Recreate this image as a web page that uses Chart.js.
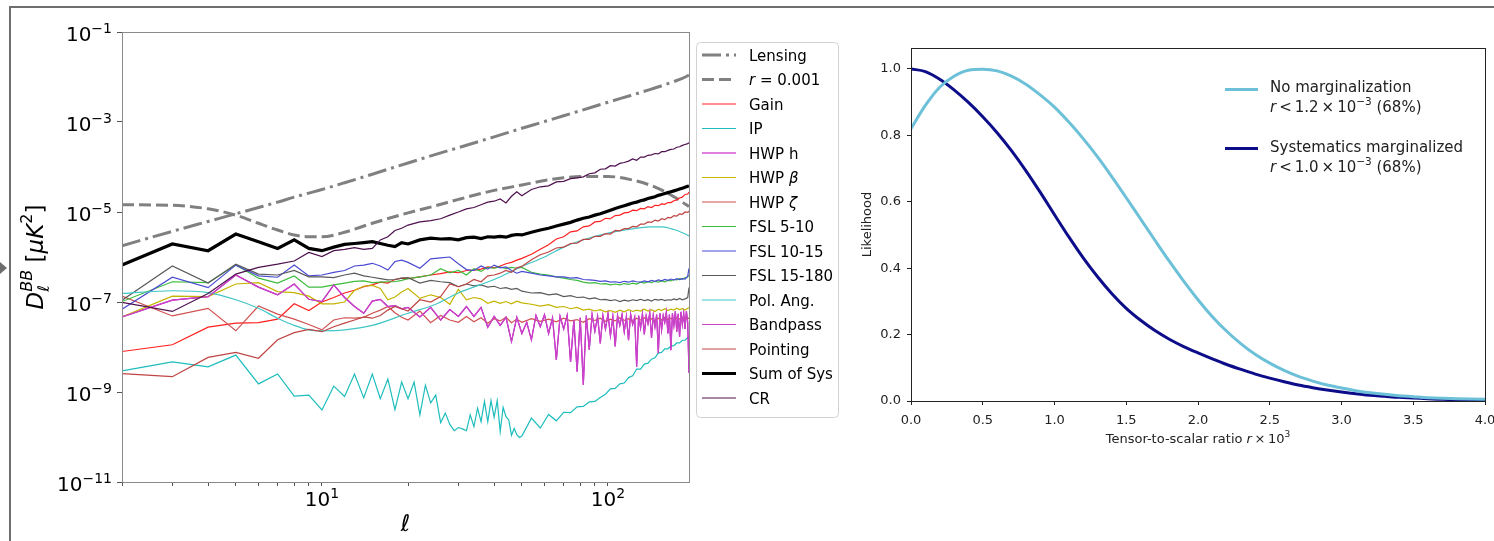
<!DOCTYPE html>
<html lang="en">
<head>
<meta charset="UTF-8">
<title>BB systematics and r likelihood</title>
<script src="https://cdn.jsdelivr.net/npm/chart.js"></script>
<style>
  html, body { margin:0; padding:0; background:#fff; }
  body { width:1494px; height:541px; position:relative; overflow:hidden; font-family:"DejaVu Sans", sans-serif; }
  #frame { position:absolute; left:9px; top:6px; right:-10px; bottom:-10px; border-left:2px solid #6e6e6e; border-top:2px solid #6e6e6e; }
  #arrow { position:absolute; left:0; top:262px; width:0; height:0; border-top:6px solid transparent; border-bottom:6px solid transparent; border-left:7px solid #6e6e6e; }
  #left  { position:absolute; left:0;     top:0; width:860px; height:541px; }
  #right { position:absolute; left:840px; top:0; width:654px; height:541px; }
</style>
</head>
<body>
<div id="frame"></div>
<div id="arrow"></div>
<div id="left"><canvas id="cl"></canvas></div>
<div id="right"><canvas id="cr"></canvas></div>

<script>
/* ==== data : left panel (values are log10 of D_l^BB in uK^2) ==== */
const ell = [2,3,4,5,6,7,8,9,10,11,12,13,14,15,16,17,18,19,20,
  22,24,26,28,30,32,34,36,38,40,42,44,46,48,50,
  54,58,62,66,70,74,78,82,86,90,94,98,102,106,110,114,118,122,126,130,134,138,142,146,150,154,158,162,166,170,174,178,182,186,190,192];

const ellIP = [2,3,4,5,6,7,8,9,10,11,12,13,14,15,16,17,18,19,20,21,22,23,24,25,26,27,28,29,30,
  31,32,33,34,35,36,37,38,39,40,41,42,43,44,45,46,47,48,49,50,
  54,58,62,66,70,74,78,82,86,90,94,98,102,106,110,114,118,122,126,130,134,138,142,146,150,154,158,162,166,170,174,178,182,186,190,192];

const ellFine = [2,3,4,5,6,7,8,9,10,11,12,13,14,15,16,17,18,19,20,
  22,24,26,28,30,32,34,36,38,40,42,44,46,48,50,
  52,54,56,58,60,62,64,66,68,70,72,74,76,78,80,82,84,86,88,90,92,94,96,98,100,
  102,104,106,108,110,112,114,116,118,120,122,124,126,128,130,132,134,136,138,140,
  142,144,146,148,150,152,154,156,158,160,162,164,166,168,170,172,174,176,178,180,
  182,184,186,188,190,192];

const ellSmooth = [2,3,4,5,6,7,8,9,10,12,15,20,25,30,40,50,60,70,80,100,120,140,155,170,182,192];

const lensing = [-5.75,-5.43,-5.21,-5.04,-4.90,-4.78,-4.67,-4.58,-4.50,-4.35,-4.16,-3.91,-3.72,-3.57,-3.33,-3.14,-2.99,-2.86,-2.75,-2.56,-2.41,-2.28,-2.19,-2.10,-2.03,-1.96];
const rTensor = [-4.84,-4.85,-4.93,-5.07,-5.25,-5.40,-5.51,-5.55,-5.55,-5.45,-5.25,-5.02,-4.86,-4.72,-4.52,-4.40,-4.30,-4.24,-4.21,-4.21,-4.28,-4.40,-4.52,-4.66,-4.78,-4.88];
const polAng  = [-6.81,-6.75,-6.79,-6.95,-7.14,-7.36,-7.52,-7.62,-7.64,-7.62,-7.52,-7.25,-7.05,-6.80,-6.50,-6.21,-6.00,-5.78,-5.64,-5.47,-5.38,-5.33,-5.33,-5.39,-5.46,-5.53];

const gain = [-8.10,-7.95,-7.56,-7.47,-7.46,-7.38,-7.04,-7.19,-7.00,-6.90,-6.80,-6.74,-6.66,-6.62,-6.56,-6.58,-6.50,-6.47,-6.48,
  -6.44,-6.40,-6.37,-6.33,-6.35,-6.30,-6.29,-6.27,-6.22,-6.24,-6.20,-6.15,-6.12,-6.07,-6.03,
  -5.94,-5.83,-5.73,-5.60,-5.55,-5.44,-5.42,-5.33,-5.31,-5.22,-5.21,-5.14,-5.15,-5.08,-5.07,-5.02,-5.01,-4.96,-4.97,-4.92,-4.93,-4.88,-4.90,-4.85,-4.86,-4.82,-4.83,-4.79,-4.79,-4.75,-4.73,-4.69,-4.67,-4.61,-4.60,-4.56];

const ip = [-8.53,-8.33,-8.44,-8.18,-8.82,-8.60,-9.09,-9.07,-9.40,-8.87,-9.10,-8.60,-9.13,-8.60,-9.15,-8.71,-9.39,-8.78,-9.15,-8.78,-9.51,-8.85,-9.24,-9.07,-9.68,-9.47,-9.72,-9.86,-9.79,
  -9.82,-9.86,-9.51,-9.77,-9.36,-9.66,-9.21,-9.66,-9.19,-9.56,-9.19,-9.88,-9.34,-9.55,-9.62,-9.96,-9.81,-9.95,-10.01,-9.98,
  -9.58,-9.80,-9.50,-9.64,-9.45,-9.46,-9.33,-9.32,-9.22,-9.21,-9.12,-9.05,-8.93,-8.92,-8.82,-8.80,-8.68,-8.64,-8.49,-8.49,-8.38,-8.36,-8.27,-8.24,-8.13,-8.12,-8.04,-8.04,-7.98,-7.97,-7.91,-7.91,-7.85,-7.85,-7.79,-7.78];

const bandpass = [-7.33,-6.96,-6.88,-6.40,-6.67,-6.84,-6.60,-6.94,-6.99,-6.62,-6.90,-7.10,-7.25,-6.98,-6.94,-7.10,-7.08,-7.15,-7.12,
  -7.33,-7.12,-7.40,-7.17,-7.32,-7.10,-7.32,-7.12,-7.56,-7.32,-7.52,-7.34,-7.88,-7.34,-7.70,
  -7.45,-7.84,-7.30,-7.55,-7.28,-7.70,-7.35,-8.29,-7.32,-7.60,-7.30,-8.33,-7.40,-8.55,-7.35,-8.84,-7.30,-8.06,-7.28,-7.65,-7.32,-7.92,-7.30,-7.60,-7.26,
  -7.75,-7.33,-7.99,-7.30,-7.52,-7.28,-7.66,-7.32,-7.85,-7.27,-7.50,-7.34,-8.44,-7.30,-7.58,-7.26,-7.72,-7.31,-7.48,-7.24,
  -7.80,-7.30,-7.55,-7.28,-8.14,-7.25,-7.62,-7.30,-7.45,-7.22,-7.70,-7.28,-8.07,-7.25,-7.52,-7.20,-7.66,-7.26,-7.77,-7.22,
  -7.50,-7.25,-7.60,-7.20,-7.45,-8.58];

// HWP h lies underneath the Bandpass curve in the figure
const hwpH = bandpass;

const hwpBeta = [-7.33,-6.87,-6.88,-6.60,-6.57,-6.77,-6.79,-6.87,-7.04,-7.04,-7.00,-6.74,-6.65,-6.63,-6.70,-6.95,-6.89,-6.78,-6.70,
  -6.92,-6.84,-6.90,-7.05,-6.72,-6.95,-6.90,-6.93,-7.03,-6.98,-7.03,-6.99,-7.04,-6.98,-7.02,
  -7.05,-7.09,-7.06,-7.12,-7.10,-7.15,-7.12,-7.18,-7.16,-7.20,-7.17,-7.22,-7.19,-7.23,-7.18,-7.22,-7.17,-7.21,-7.18,-7.20,-7.16,-7.20,-7.17,-7.21,-7.16,-7.19,-7.15,-7.19,-7.16,-7.18,-7.14,-7.17,-7.15,-7.18,-7.14,-7.12];

const hwpZeta = [-6.87,-7.31,-7.14,-7.64,-7.09,-7.27,-7.38,-7.50,-7.62,-7.40,-7.35,-7.36,-7.34,-7.25,-7.18,-7.10,-7.24,-7.34,-7.40,
  -7.20,-7.46,-7.30,-7.40,-7.45,-7.32,-7.44,-7.35,-7.47,-7.37,-7.42,-7.34,-7.46,-7.38,-7.45,
  -7.37,-7.43,-7.38,-7.44,-7.36,-7.42,-7.39,-7.45,-7.37,-7.41,-7.36,-7.43,-7.38,-7.42,-7.35,-7.41,-7.37,-7.43,-7.36,-7.40,-7.35,-7.41,-7.37,-7.42,-7.36,-7.40,-7.34,-7.39,-7.36,-7.41,-7.35,-7.38,-7.34,-7.39,-7.35,-7.37];

const fsl510 = [-6.99,-6.55,-6.57,-6.18,-6.47,-6.58,-6.42,-6.67,-6.67,-6.62,-6.58,-6.54,-6.53,-6.57,-6.56,-6.55,-6.55,-6.52,-6.48,
  -6.44,-6.40,-6.26,-6.35,-6.30,-6.40,-6.26,-6.32,-6.23,-6.25,-6.22,-6.26,-6.23,-6.25,-6.23,
  -6.34,-6.38,-6.40,-6.44,-6.47,-6.50,-6.52,-6.56,-6.58,-6.57,-6.60,-6.59,-6.62,-6.60,-6.62,-6.59,-6.61,-6.58,-6.60,-6.56,-6.58,-6.55,-6.57,-6.54,-6.56,-6.53,-6.55,-6.52,-6.53,-6.50,-6.51,-6.48,-6.49,-6.46,-6.44,-6.40];

const fsl1015 = [-7.16,-6.45,-6.68,-6.18,-6.42,-6.45,-6.18,-6.42,-6.40,-6.34,-6.30,-6.20,-6.18,-6.14,-6.20,-6.29,-6.10,-6.07,-6.12,
  -6.25,-6.04,-6.02,-6.00,-6.15,-6.28,-6.30,-6.20,-6.27,-6.18,-6.24,-6.22,-6.30,-6.36,-6.32,
  -6.36,-6.40,-6.42,-6.44,-6.44,-6.47,-6.46,-6.50,-6.51,-6.52,-6.54,-6.53,-6.56,-6.55,-6.57,-6.54,-6.56,-6.53,-6.55,-6.56,-6.53,-6.55,-6.52,-6.54,-6.51,-6.53,-6.50,-6.52,-6.49,-6.51,-6.48,-6.50,-6.48,-6.49,-6.43,-6.25];

const fsl15180 = [-6.96,-6.20,-6.58,-6.16,-6.38,-6.40,-6.30,-6.44,-6.44,-6.46,-6.40,-6.36,-6.42,-6.45,-6.48,-6.51,-6.50,-6.47,-6.46,
  -6.58,-6.52,-6.55,-6.57,-6.66,-6.60,-6.64,-6.62,-6.67,-6.65,-6.70,-6.68,-6.72,-6.70,-6.76,
  -6.80,-6.79,-6.84,-6.82,-6.88,-6.86,-6.90,-6.89,-6.93,-6.91,-6.95,-6.94,-6.97,-6.95,-6.99,-6.96,-6.98,-6.95,-6.97,-6.94,-6.97,-6.95,-6.98,-6.94,-6.96,-6.94,-6.97,-6.95,-6.96,-6.93,-6.95,-6.92,-6.95,-6.93,-6.90,-6.68];

const pointing = [-8.59,-8.66,-8.23,-8.12,-8.25,-7.84,-7.68,-7.61,-7.66,-7.55,-7.47,-7.40,-7.33,-7.36,-7.30,-7.18,-7.10,-7.15,-7.20,
  -6.95,-7.00,-6.88,-6.60,-6.66,-6.60,-6.50,-6.55,-6.42,-6.40,-6.36,-6.30,-6.34,-6.24,-6.21,
  -6.06,-5.95,-5.89,-5.80,-5.78,-5.70,-5.69,-5.61,-5.61,-5.54,-5.54,-5.48,-5.49,-5.41,-5.42,-5.37,-5.37,-5.32,-5.33,-5.27,-5.27,-5.22,-5.23,-5.18,-5.20,-5.15,-5.17,-5.12,-5.13,-5.08,-5.09,-5.04,-5.05,-5.00,-5.01,-4.98];

const sumSys = [-6.18,-5.71,-5.86,-5.49,-5.66,-5.81,-5.62,-5.81,-5.86,-5.78,-5.72,-5.70,-5.68,-5.66,-5.70,-5.74,-5.77,-5.68,-5.71,
  -5.62,-5.58,-5.60,-5.59,-5.62,-5.57,-5.56,-5.59,-5.55,-5.56,-5.54,-5.56,-5.52,-5.50,-5.51,
  -5.45,-5.40,-5.36,-5.31,-5.27,-5.23,-5.18,-5.14,-5.11,-5.07,-5.04,-5.00,-4.96,-4.92,-4.89,-4.86,-4.83,-4.80,-4.78,-4.75,-4.73,-4.70,-4.68,-4.66,-4.63,-4.61,-4.59,-4.57,-4.55,-4.53,-4.51,-4.49,-4.47,-4.45,-4.43,-4.42];

const cr = [-7.01,-7.21,-6.81,-6.38,-6.23,-6.16,-6.09,-5.90,-5.99,-5.86,-5.83,-5.79,-5.83,-5.81,-5.62,-5.55,-5.41,-5.36,-5.29,
  -5.22,-5.19,-5.15,-5.07,-5.00,-4.93,-4.90,-4.84,-4.78,-4.76,-4.71,-4.80,-4.65,-4.55,-4.64,
  -4.50,-4.44,-4.42,-4.33,-4.32,-4.26,-4.24,-4.22,-4.15,-4.13,-4.05,-4.04,-3.97,-3.98,-3.92,-3.90,-3.87,-3.82,-3.85,-3.78,-3.78,-3.74,-3.73,-3.70,-3.71,-3.66,-3.66,-3.63,-3.61,-3.60,-3.56,-3.55,-3.52,-3.50,-3.48,-3.46];

const yTickExp = [-1, -3, -5, -7, -9, -11];
const xTicksLeft = [2,3,4,5,6,7,8,9,10,20,30,40,50,60,70,80,90,100];
const xLabelExp = [1, 2];

/* ==== data : right panel ==== */
const rGrid = [0,0.1,0.2,0.3,0.4,0.5,0.6,0.7,0.8,0.9,1.0,1.1,1.2,1.3,1.4,1.5,1.6,1.7,1.8,1.9,2.0,
  2.1,2.2,2.3,2.4,2.5,2.6,2.7,2.8,2.9,3.0,3.1,3.2,3.3,3.4,3.5,3.6,3.7,3.8,3.9,4.0];
const likeNoMarg = [0.820,0.890,0.945,0.978,0.996,0.999,0.994,0.978,0.954,0.922,0.885,0.840,0.790,0.735,0.675,0.612,0.548,0.484,0.421,0.361,0.305,
  0.254,0.210,0.172,0.140,0.114,0.092,0.074,0.060,0.048,0.039,0.031,0.025,0.020,0.016,0.013,0.010,0.008,0.007,0.006,0.005];
const likeSysMarg = [1.000,0.992,0.969,0.937,0.899,0.856,0.808,0.754,0.694,0.629,0.561,0.494,0.431,0.374,0.323,0.279,0.243,0.212,0.186,0.164,0.145,
  0.127,0.110,0.095,0.081,0.069,0.058,0.048,0.040,0.033,0.027,0.022,0.017,0.014,0.011,0.009,0.007,0.005,0.004,0.003,0.003];
const rTicks = [0,0.5,1,1.5,2,2.5,3,3.5,4];
const likeTicks = [0,0.2,0.4,0.6,0.8,1.0];

/* ==== helpers ==== */
const F = (size, italic) => (italic ? 'italic ' : '') + size + 'px "DejaVu Sans"';
const TS = '\u2009';   // thin space, like mathtext spacing

// draws a row of text pieces; pieces with keep:true do not advance the pen
function drawRich(ctx, parts, x, y, align){
  let w = 0;
  parts.forEach(p => { ctx.font = p.font; if(!p.keep) w += ctx.measureText(p.text).width; });
  let cx = align === 'center' ? x - w/2 : align === 'right' ? x - w : x;
  parts.forEach(p => {
    ctx.font = p.font;
    ctx.fillText(p.text, cx, y + (p.dy || 0));
    if(!p.keep) cx += ctx.measureText(p.text).width;
  });
}

function pow10Label(ctx, exp, x, yBase, align){
  const e = (exp < 0 ? '\u2212' : '') + Math.abs(exp);
  drawRich(ctx, [{text:'10', font:F(20)}, {text:e, font:F(14), dy:-8}], x, yBase, align);
}

/* ==== left panel ==== */
const seriesDefs = [
  {label:[['Lensing']],            x:ellSmooth, y:lensing,  color:'#808080', width:3,   dash:[19,5,3,5], smooth:true},
  {label:[['r',1],[' = 0.001']],   x:ellSmooth, y:rTensor,  color:'#808080', width:3,   dash:[12,5],     smooth:true},
  {label:[['Gain']],               x:ell,       y:gain,     color:'#ff1f1f', width:1.2},
  {label:[['IP']],                 x:ellIP,     y:ip,       color:'#1ebdbd', width:1.2},
  {label:[['HWP h']],              x:ellFine,   y:hwpH,     color:'#bf00bf', width:1.2},
  {label:[['HWP '],['\u03b2',1]],  x:ell,       y:hwpBeta,  color:'#c4b400', width:1.2},
  {label:[['HWP '],['\u03b6',1]],  x:ell,       y:hwpZeta,  color:'#d05050', width:1.2},
  {label:[['FSL 5-10']],           x:ell,       y:fsl510,   color:'#3cbb3c', width:1.2},
  {label:[['FSL 10-15']],          x:ell,       y:fsl1015,  color:'#4a4ad2', width:1.2},
  {label:[['FSL 15-180']],         x:ell,       y:fsl15180, color:'#5a5a5a', width:1.2},
  {label:[['Pol. Ang.']],          x:ellSmooth, y:polAng,   color:'#40c6c6', width:1.2, smooth:true},
  {label:[['Bandpass']],           x:ellFine,   y:bandpass, color:'#c844c8', width:1.2},
  {label:[['Pointing']],           x:ell,       y:pointing, color:'#bf4444', width:1.2},
  {label:[['Sum of Sys']],         x:ell,       y:sumSys,   color:'#000000', width:3.2},
  {label:[['CR']],                 x:ell,       y:cr,       color:'#4e104e', width:1.2},
];

const leftDecor = {
  id:'leftDecor',
  afterDraw(chart){
    const {ctx, chartArea:a, scales:{x, y}} = chart;
    ctx.save();
    ctx.strokeStyle = '#8a8a8a'; ctx.lineWidth = 1;
    ctx.strokeRect(a.left + 0.5, a.top + 0.5, a.right - a.left, a.bottom - a.top);

    ctx.fillStyle = '#000'; ctx.textBaseline = 'alphabetic';
    yTickExp.forEach(e => pow10Label(ctx, e, 112, y.getPixelForValue(Math.pow(10, e)) + 9, 'right'));
    xLabelExp.forEach(e => pow10Label(ctx, e, x.getPixelForValue(Math.pow(10, e)), 506, 'center'));

    // axis titles
    ctx.font = F(23, true); ctx.textAlign = 'center';
    ctx.fillText('\u2113', (a.left + a.right)/2, 531);
    ctx.textAlign = 'left';
    ctx.save();
    ctx.translate(43, (a.top + a.bottom)/2);
    ctx.rotate(-Math.PI/2);
    drawRich(ctx, [
      {text:'D', font:F(23,true)},
      {text:'\u2113', font:F(16,true), dy:6, keep:true},
      {text:'BB', font:F(16,true), dy:-11},
      {text:' [', font:F(23)},
      {text:'\u03bcK', font:F(23,true)},
      {text:'2', font:F(16), dy:-11},
      {text:']', font:F(23)}
    ], 0, 0, 'center');
    ctx.restore();

    // legend
    const bx = 696, by = 42, bw = 142, bh = 375;
    ctx.fillStyle = 'rgba(255,255,255,0.85)';
    ctx.strokeStyle = '#d2d2d2'; ctx.lineWidth = 1;
    ctx.beginPath(); ctx.roundRect(bx + 0.5, by + 0.5, bw, bh, 4); ctx.fill(); ctx.stroke();
    seriesDefs.forEach((s, i) => {
      const cy = 55 + i * 24.5;
      ctx.strokeStyle = s.color; ctx.lineWidth = s.width;
      ctx.setLineDash(s.dash || []);
      ctx.beginPath(); ctx.moveTo(702, cy); ctx.lineTo(736, cy); ctx.stroke();
      ctx.setLineDash([]);
      ctx.fillStyle = '#000';
      drawRich(ctx, s.label.map(p => ({text:p[0], font:F(15, !!p[1])})), 749, cy + 5.5, 'left');
    });
    ctx.restore();
  }
};

new Chart(document.getElementById('cl'), {
  type:'line',
  data:{
    datasets: seriesDefs.map((s, i) => ({
      label: s.label.map(p => p[0]).join(''),
      data: s.x.map((v, k) => ({x:v, y:Math.pow(10, s.y[k])})),
      borderColor: s.color,
      borderWidth: s.width,
      borderDash: s.dash || [],
      pointRadius: 0,
      fill: false,
      tension: 0,
      cubicInterpolationMode: s.smooth ? 'monotone' : 'default',
      order: seriesDefs.length - i
    }))
  },
  options:{
    responsive:true, maintainAspectRatio:false, animation:false,
    layout:{padding:{left:0, top:32, right:171, bottom:0}},
    plugins:{legend:{display:false}, tooltip:{enabled:false}},
    scales:{
      x:{
        type:'logarithmic', min:2, max:192,
        afterBuildTicks: s => { s.ticks = xTicksLeft.map(v => ({value:v})); },
        afterFit: s => { s.height = 59; s.paddingLeft = 0; s.paddingRight = 0; },
        ticks:{display:false},
        grid:{drawOnChartArea:false, drawTicks:true, tickLength:4, color:'#555'},
        border:{display:false}
      },
      y:{
        type:'logarithmic', min:1e-11, max:1e-1,
        afterBuildTicks: s => { s.ticks = yTickExp.map(e => ({value:Math.pow(10, e)})); },
        afterFit: s => { s.width = 122; s.paddingTop = 0; s.paddingBottom = 0; },
        ticks:{display:false},
        grid:{drawOnChartArea:false, drawTicks:true, tickLength:5, color:'#555'},
        border:{display:false}
      }
    }
  },
  plugins:[leftDecor]
});

/* ==== right panel ==== */
const rightDecor = {
  id:'rightDecor',
  afterDraw(chart){
    const {ctx, chartArea:a} = chart;
    ctx.save();
    ctx.strokeStyle = '#222'; ctx.lineWidth = 1;
    ctx.strokeRect(a.left + 0.5, a.top + 0.5, a.right - a.left, a.bottom - a.top);
    ctx.fillStyle = '#222'; ctx.textBaseline = 'alphabetic';

    drawRich(ctx, [
      {text:'Tensor-to-scalar ratio ', font:F(13)},
      {text:'r', font:F(13,true)},
      {text:TS + '\u00d7' + TS + '10', font:F(13)},
      {text:'3', font:F(9), dy:-6}
    ], (a.left + a.right)/2, 443, 'center');

    ctx.save();
    ctx.translate(31, (a.top + a.bottom)/2);
    ctx.rotate(-Math.PI/2);
    ctx.font = F(13); ctx.textAlign = 'center';
    ctx.fillText('Likelihood', 0, 0);
    ctx.restore();

    // legend
    const items = [
      {color:'#6cc0d8', cy:89.5,  l1:'No marginalization',       bound:'1.2', base:92},
      {color:'#0d0d8a', cy:148.5, l1:'Systematics marginalized', bound:'1.0', base:152}
    ];
    items.forEach(it => {
      ctx.strokeStyle = it.color; ctx.lineWidth = 3;
      ctx.beginPath(); ctx.moveTo(385, it.cy); ctx.lineTo(418, it.cy); ctx.stroke();
      ctx.fillStyle = '#222';
      drawRich(ctx, [{text:it.l1, font:F(15)}], 430, it.base, 'left');
      drawRich(ctx, [
        {text:'r', font:F(15,true)},
        {text:TS + '<' + TS + it.bound + TS + '\u00d7' + TS + '10', font:F(15)},
        {text:'\u22123', font:F(10.5), dy:-7},
        {text:' (68%)', font:F(15)}
      ], 430, it.base + 20, 'left');
    });
    ctx.restore();
  }
};

new Chart(document.getElementById('cr'), {
  type:'line',
  data:{
    datasets:[
      {label:'No marginalization', data:rGrid.map((v, k) => ({x:v, y:likeNoMarg[k]})),
       borderColor:'#6cc0d8', borderWidth:3, pointRadius:0, fill:false, cubicInterpolationMode:'monotone'},
      {label:'Systematics marginalized', data:rGrid.map((v, k) => ({x:v, y:likeSysMarg[k]})),
       borderColor:'#0d0d8a', borderWidth:3, pointRadius:0, fill:false, cubicInterpolationMode:'monotone'}
    ]
  },
  options:{
    responsive:true, maintainAspectRatio:false, animation:false,
    layout:{padding:{left:0, top:48, right:9, bottom:0}},
    plugins:{legend:{display:false}, tooltip:{enabled:false}},
    scales:{
      x:{
        type:'linear', min:0, max:4,
        afterBuildTicks: s => { s.ticks = rTicks.map(v => ({value:v})); },
        afterFit: s => { s.height = 140; s.paddingLeft = 0; s.paddingRight = 0; },
        ticks:{autoSkip:false, maxRotation:0, padding:8, color:'#222', font:{family:'DejaVu Sans', size:13},
               callback: v => v.toFixed(1)},
        grid:{drawOnChartArea:false, drawTicks:true, tickLength:4, color:'#222'},
        border:{display:false}
      },
      y:{
        type:'linear', min:0, max:1.063,
        afterBuildTicks: s => { s.ticks = likeTicks.map(v => ({value:v})); },
        afterFit: s => { s.width = 71; s.paddingTop = 0; s.paddingBottom = 0; },
        ticks:{padding:6, color:'#222', font:{family:'DejaVu Sans', size:13}, callback: v => v.toFixed(1)},
        grid:{drawOnChartArea:false, drawTicks:true, tickLength:4, color:'#222'},
        border:{display:false}
      }
    }
  },
  plugins:[rightDecor]
});
</script>
</body>
</html>
